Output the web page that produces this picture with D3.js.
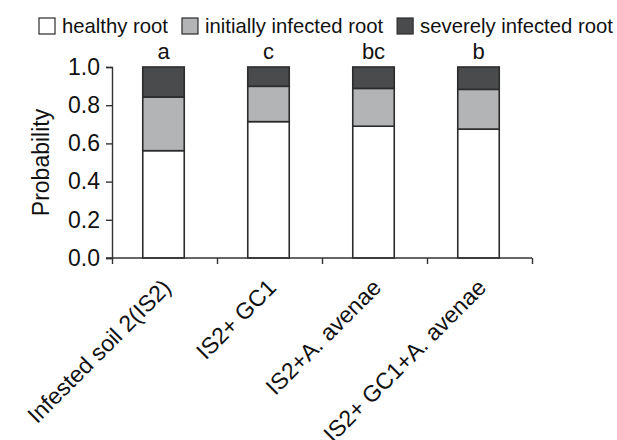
<!DOCTYPE html>
<html>
<head>
<meta charset="utf-8">
<script src="https://cdn.jsdelivr.net/npm/d3@7"></script>
<style>
  html, body { margin: 0; padding: 0; background: #fff; }
  svg { display: block; }
  text { font-family: "Liberation Sans", Arial, Helvetica, sans-serif; fill: #111; }
</style>
</head>
<body>
<svg id="chart" width="617" height="440"></svg>
<script>
// ---- data ----
const categories = ["Infested soil 2(IS2)", "IS2+ GC1", "IS2+A. avenae", "IS2+ GC1+A. avenae"];
const seriesNames = ["healthy root", "initially infected root", "severely infected root"];
const healthy   = [0.562, 0.714, 0.690, 0.675];
const initially = [0.281, 0.185, 0.198, 0.208];
const severely  = [0.157, 0.101, 0.112, 0.117];
const letters   = ["a", "c", "bc", "b"];
const yTicks    = [0, 0.2, 0.4, 0.6, 0.8, 1.0];
const yLabel    = "Probability";

// ---- layout ----
const svg = d3.select("#chart");
const mLeft = 112, mRight = 532, mTop = 67, mBottom = 258;
const colors = ["#ffffff", "#b3b4b6", "#4a4b4d"];
const strokeCol = "#2b2b2b";
const axisFont = 23;
const legendFont = 20.3;

const x = d3.scaleBand().domain(categories).range([mLeft, mRight]).padding(0);
const y = d3.scaleLinear().domain([0, 1]).range([mBottom, mTop]);

const rows = categories.map((c, i) => ({
  cat: c, "healthy root": healthy[i], "initially infected root": initially[i], "severely infected root": severely[i]
}));
const stack = d3.stack().keys(seriesNames)(rows);

const bw = x.bandwidth();
const barW = bw * 0.395;
const barOff = (bw - barW) / 2 - 1;

// bars
stack.forEach((layer, li) => {
  svg.append("g").selectAll("rect").data(layer).join("rect")
    .attr("x", d => x(d.data.cat) + barOff)
    .attr("y", d => y(d[1]))
    .attr("width", barW)
    .attr("height", d => y(d[0]) - y(d[1]))
    .attr("fill", colors[li])
    .attr("stroke", strokeCol)
    .attr("stroke-width", 1.6);
});

// y axis
const yAxis = d3.axisLeft(y).tickValues(yTicks).tickFormat(d3.format(".1f")).tickSize(6).tickPadding(6);
const gy = svg.append("g").attr("transform", `translate(${mLeft},0)`).call(yAxis);
gy.select(".domain").attr("stroke", "#333").attr("stroke-width", 1.4);
gy.selectAll(".tick line").attr("stroke", "#333").attr("stroke-width", 1.4);
gy.selectAll(".tick text").attr("font-size", axisFont).attr("font-family", "Liberation Sans, Arial, sans-serif").attr("fill", "#111");

// x axis: ticks at band boundaries
const edges = categories.map(c => x(c)).concat([mRight]);
const xEdge = d3.scaleLinear().domain([0, edges.length - 1]).range([mLeft, mRight]);
const xAxis = d3.axisBottom(xEdge).tickValues(d3.range(edges.length)).tickFormat("").tickSize(6).tickSizeOuter(0);
const gx = svg.append("g").attr("transform", `translate(0,${mBottom})`).call(xAxis);
gx.select(".domain").attr("stroke", "#333").attr("stroke-width", 1.4)
  .attr("d", `M${mLeft - 6},0H${mRight}`);
gx.selectAll(".tick line").attr("stroke", "#333").attr("stroke-width", 1.4);

// x labels rotated
svg.append("g").selectAll("text").data(categories).join("text")
  .attr("transform", d => `translate(${x(d) + bw / 2 + 8},${mBottom + 31}) rotate(-45)`)
  .attr("text-anchor", "end")
  .attr("font-size", axisFont)
  .text(d => d);

// significance letters
svg.append("g").selectAll("text").data(categories).join("text")
  .attr("x", d => x(d) + barOff + barW / 2)
  .attr("y", mTop - 8)
  .attr("text-anchor", "middle")
  .attr("font-size", 22)
  .text((d, i) => letters[i]);

// y label
svg.append("text")
  .attr("transform", `translate(49,${(mTop + mBottom) / 2}) rotate(-90)`)
  .attr("text-anchor", "middle")
  .attr("font-size", axisFont)
  .text(yLabel);

// legend
const lg = svg.append("g").attr("transform", "translate(39,18)");
let cx = 0;
seriesNames.forEach((name, i) => {
  lg.append("rect").attr("x", cx).attr("y", 0).attr("width", 16).attr("height", 16)
    .attr("fill", colors[i]).attr("stroke", strokeCol).attr("stroke-width", 1.2);
  const t = lg.append("text").attr("x", cx + 23).attr("y", 14.5).attr("font-size", legendFont).text(name);
  cx += 23 + t.node().getComputedTextLength() + 14;
});
</script>
</body>
</html>
